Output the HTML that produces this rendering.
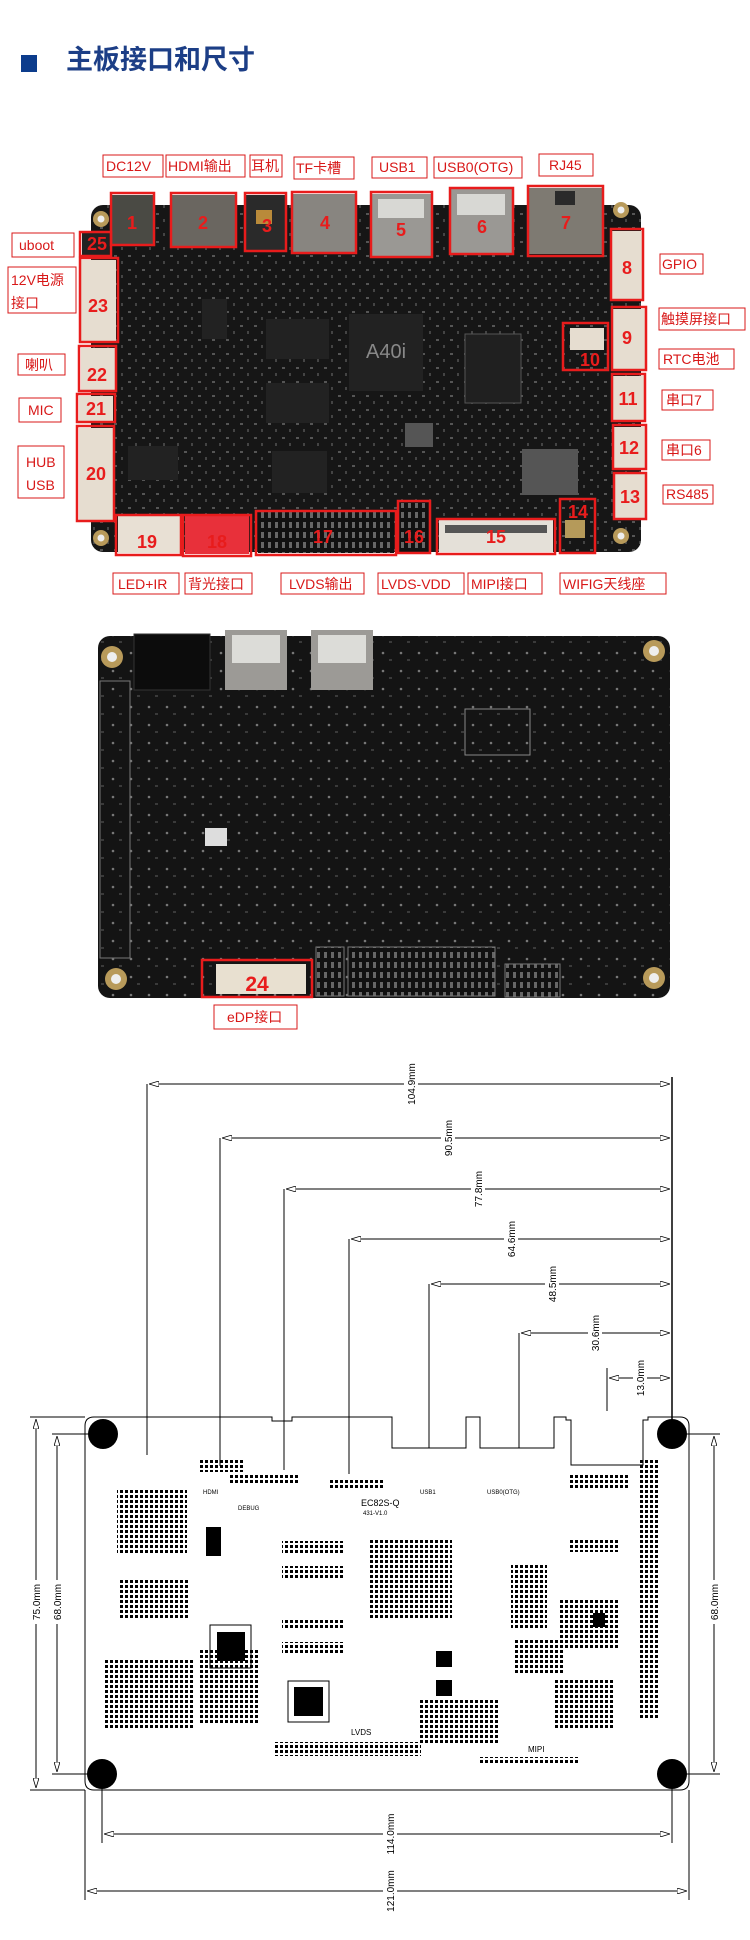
<!DOCTYPE html>
<html><head><meta charset="utf-8">
<style>
html,body{margin:0;padding:0;background:#fff;}
svg{display:block;}
.lb{font-family:"Liberation Sans","Noto Sans CJK SC",sans-serif;font-size:14px;fill:#d81818;}
.nb{font-family:"Liberation Sans",sans-serif;font-size:18px;font-weight:bold;fill:#e81c1c;text-anchor:middle;}
.dm{font-family:"Liberation Sans",sans-serif;font-size:10px;fill:#000;text-anchor:middle;}
.sk{font-family:"Liberation Sans",sans-serif;font-size:6px;fill:#000;}
</style></head><body>
<svg width="750" height="1940" viewBox="0 0 750 1940" xmlns="http://www.w3.org/2000/svg">
<defs>
<pattern id="dots" width="5" height="5" patternUnits="userSpaceOnUse"><rect width="3" height="3" fill="#000"/></pattern>
<pattern id="pcb" width="14" height="14" patternUnits="userSpaceOnUse"><rect width="14" height="14" fill="#161616"/><rect x="2" y="3" width="3" height="2" fill="#555"/><rect x="9" y="9" width="2" height="3" fill="#444"/></pattern>
<pattern id="pcb2" width="18" height="18" patternUnits="userSpaceOnUse"><rect width="18" height="18" fill="#141414"/><circle cx="5" cy="5" r="1.3" fill="#777"/><rect x="11" y="11" width="3" height="2" fill="#3a3a3a"/></pattern>
<pattern id="hdr" width="7" height="10" patternUnits="userSpaceOnUse"><rect width="7" height="10" fill="#111"/><rect x="2" y="2" width="3" height="6" fill="#666"/></pattern>
<marker id="ar" markerWidth="10" markerHeight="6" refX="10" refY="3" orient="auto"><path d="M0,0 L10,3 L0,6 Z" fill="#fff" stroke="#000" stroke-width="0.8"/></marker>
<marker id="al" markerWidth="10" markerHeight="6" refX="0" refY="3" orient="auto"><path d="M10,0 L0,3 L10,6 Z" fill="#fff" stroke="#000" stroke-width="0.8"/></marker>
</defs>

<!-- Title -->
<rect x="21" y="55" width="16" height="17" fill="#0c3c8c"/>
<text x="66" y="69" style="font-family:'Liberation Sans','Noto Sans CJK SC',sans-serif;font-size:27px;font-weight:bold;fill:#1c3e86;">主板接口和尺寸</text>

<!-- Board 1 photo -->
<rect x="91" y="205" width="550" height="347" rx="12" fill="url(#pcb)"/>
<circle cx="101" cy="219" r="8" fill="#b89a5a"/><circle cx="101" cy="219" r="3.5" fill="#eee"/>
<circle cx="621" cy="210" r="8" fill="#b89a5a"/><circle cx="621" cy="210" r="3.5" fill="#eee"/>
<circle cx="101" cy="538" r="8" fill="#b89a5a"/><circle cx="101" cy="538" r="3.5" fill="#eee"/>
<circle cx="621" cy="536" r="8" fill="#b89a5a"/><circle cx="621" cy="536" r="3.5" fill="#eee"/>
<rect x="112" y="195" width="41" height="50" fill="#4a4a44"/>
<rect x="172" y="195" width="63" height="51" fill="#6a6660"/>
<rect x="246" y="195" width="39" height="55" fill="#2a2a2a"/><rect x="256" y="210" width="16" height="14" fill="#b98a3a"/>
<rect x="293" y="194" width="62" height="58" fill="#888580"/>
<rect x="372" y="194" width="59" height="62" fill="#9a9894"/><rect x="378" y="199" width="46" height="19" fill="#d8d8d4"/>
<rect x="451" y="189" width="61" height="65" fill="#9a9894"/><rect x="457" y="194" width="48" height="21" fill="#d8d8d4"/>
<rect x="529" y="188" width="73" height="66" fill="#7e7a72"/><rect x="555" y="191" width="20" height="14" fill="#2a2a2a"/>
<rect x="612" y="231" width="30" height="69" fill="#e6ddd0"/>
<rect x="613" y="309" width="32" height="61" fill="#e6ddd0"/>
<rect x="570" y="328" width="34" height="22" fill="#e6ddd0"/>
<rect x="613" y="376" width="31" height="44" fill="#e6ddd0"/>
<rect x="614" y="427" width="31" height="42" fill="#e6ddd0"/>
<rect x="615" y="474" width="30" height="44" fill="#e6ddd0"/>
<rect x="81" y="260" width="35" height="81" fill="#e6ddd0"/>
<rect x="81" y="348" width="34" height="42" fill="#e6ddd0"/>
<rect x="79" y="396" width="34" height="26" fill="#e6ddd0"/>
<rect x="79" y="428" width="34" height="93" fill="#e6ddd0"/>
<rect x="82" y="233" width="27" height="22" fill="#222"/>
<rect x="118" y="516" width="62" height="37" fill="#e8e0d4"/>
<rect x="185" y="516" width="64" height="38" fill="#e8303a"/>
<rect x="258" y="512" width="136" height="41" fill="url(#hdr)"/>
<rect x="400" y="503" width="28" height="50" fill="url(#hdr)"/>
<rect x="439" y="520" width="114" height="32" fill="#e4e0d8"/><rect x="445" y="525" width="102" height="8" fill="#555"/>
<rect x="565" y="520" width="20" height="18" fill="#b59a5a"/>
<rect x="349" y="314" width="74" height="77" fill="#222"/>
<text x="386" y="358" style="font-family:'Liberation Sans',sans-serif;font-size:20px;fill:#888;text-anchor:middle;">A40i</text>
<rect x="266" y="319" width="63" height="40" fill="#222"/>
<rect x="266" y="383" width="63" height="40" fill="#222"/>
<rect x="465" y="334" width="56" height="69" fill="#202020" stroke="#555"/>
<rect x="522" y="449" width="56" height="46" fill="#555"/>
<rect x="272" y="451" width="55" height="42" fill="#222"/>
<rect x="202" y="299" width="25" height="40" fill="#222"/>
<rect x="128" y="446" width="50" height="34" fill="#222"/>
<rect x="405" y="423" width="28" height="24" fill="#555"/>
<g fill="none" stroke="#e81c1c" stroke-width="2.5">
<rect x="111" y="193" width="43" height="52"/><rect x="171" y="193" width="65" height="54"/>
<rect x="245" y="193" width="41" height="58"/><rect x="292" y="192" width="64" height="61"/>
<rect x="371" y="192" width="61" height="65"/><rect x="450" y="188" width="63" height="66"/>
<rect x="528" y="186" width="75" height="70"/><rect x="611" y="229" width="32" height="71"/>
<rect x="612" y="307" width="34" height="63"/><rect x="563" y="323" width="45" height="47"/>
<rect x="612" y="374" width="33" height="47"/><rect x="613" y="425" width="33" height="44"/>
<rect x="614" y="473" width="32" height="46"/><rect x="560" y="499" width="35" height="54"/>
<rect x="437" y="519" width="118" height="35"/><rect x="398" y="501" width="32" height="52"/>
<rect x="256" y="511" width="140" height="44"/><rect x="183" y="515" width="68" height="41"/>
<rect x="116" y="515" width="65" height="40"/><rect x="77" y="426" width="37" height="95"/>
<rect x="77" y="394" width="38" height="28"/><rect x="79" y="346" width="37" height="45"/>
<rect x="80" y="258" width="38" height="84"/><rect x="80" y="232" width="31" height="24"/>
</g>
<g class="nb">
<text x="132" y="229">1</text><text x="203" y="229">2</text><text x="267" y="232">3</text><text x="325" y="229">4</text>
<text x="401" y="236">5</text><text x="482" y="233">6</text><text x="566" y="229">7</text><text x="627" y="274">8</text>
<text x="627" y="344">9</text><text x="590" y="366">10</text><text x="628" y="405">11</text><text x="629" y="454">12</text>
<text x="630" y="503">13</text><text x="578" y="518">14</text><text x="496" y="543">15</text><text x="414" y="543">16</text>
<text x="323" y="543">17</text><text x="217" y="548">18</text><text x="147" y="548">19</text><text x="96" y="480">20</text>
<text x="96" y="415">21</text><text x="97" y="381">22</text><text x="98" y="312">23</text><text x="97" y="250">25</text>
</g>
<g fill="none" stroke="#d81818" stroke-width="1">
<rect x="103" y="155" width="60" height="22"/><rect x="166" y="155" width="79" height="22"/><rect x="250" y="155" width="32" height="22"/>
<rect x="294" y="157" width="60" height="22"/><rect x="372" y="157" width="55" height="21"/><rect x="434" y="157" width="88" height="21"/>
<rect x="539" y="154" width="54" height="22"/>
<rect x="12" y="233" width="62" height="24"/><rect x="8" y="267" width="68" height="46"/><rect x="18" y="354" width="47" height="21"/>
<rect x="19" y="398" width="42" height="24"/><rect x="18" y="446" width="46" height="52"/>
<rect x="660" y="254" width="43" height="20"/><rect x="659" y="308" width="86" height="22"/><rect x="659" y="349" width="75" height="20"/>
<rect x="662" y="390" width="51" height="20"/><rect x="662" y="440" width="48" height="20"/><rect x="663" y="485" width="50" height="19"/>
<rect x="113" y="573" width="66" height="21"/><rect x="185" y="573" width="67" height="21"/><rect x="281" y="573" width="83" height="21"/>
<rect x="378" y="573" width="86" height="21"/><rect x="468" y="573" width="74" height="21"/><rect x="560" y="573" width="106" height="21"/>
</g>
<g class="lb">
<text x="106" y="171">DC12V</text><text x="168" y="171">HDMI输出</text><text x="251" y="171">耳机</text>
<text x="296" y="173">TF卡槽</text><text x="379" y="172">USB1</text><text x="437" y="172">USB0(OTG)</text><text x="549" y="170">RJ45</text>
<text x="19" y="250">uboot</text><text x="11" y="285">12V电源</text><text x="11" y="308">接口</text><text x="25" y="370">喇叭</text>
<text x="28" y="415">MIC</text><text x="26" y="467">HUB</text><text x="26" y="490">USB</text>
<text x="662" y="269">GPIO</text><text x="661" y="324">触摸屏接口</text><text x="663" y="364">RTC电池</text>
<text x="666" y="405">串口7</text><text x="666" y="455">串口6</text><text x="666" y="499">RS485</text>
<text x="118" y="589">LED+IR</text><text x="188" y="589">背光接口</text><text x="289" y="589">LVDS输出</text>
<text x="381" y="589">LVDS-VDD</text><text x="471" y="589">MIPI接口</text><text x="563" y="589">WIFIG天线座</text>
</g>

<!-- Board 2 photo -->
<rect x="98" y="636" width="572" height="362" rx="12" fill="url(#pcb2)"/>
<rect x="134" y="634" width="76" height="56" fill="#0c0c0c" stroke="#333"/>
<rect x="225" y="630" width="62" height="60" fill="#9c9a96"/><rect x="232" y="635" width="48" height="28" fill="#dcdcd8"/>
<rect x="311" y="630" width="62" height="60" fill="#9c9a96"/><rect x="318" y="635" width="48" height="28" fill="#dcdcd8"/>
<circle cx="112" cy="657" r="11" fill="#b89a5a"/><circle cx="112" cy="657" r="5" fill="#eee"/>
<circle cx="654" cy="651" r="11" fill="#b89a5a"/><circle cx="654" cy="651" r="5" fill="#eee"/>
<circle cx="116" cy="979" r="11" fill="#b89a5a"/><circle cx="116" cy="979" r="5" fill="#eee"/>
<circle cx="654" cy="978" r="11" fill="#b89a5a"/><circle cx="654" cy="978" r="5" fill="#eee"/>
<rect x="100" y="681" width="30" height="277" fill="none" stroke="#777"/>
<rect x="348" y="947" width="147" height="49" fill="url(#hdr)" stroke="#777"/>
<rect x="316" y="947" width="28" height="49" fill="url(#hdr)" stroke="#777"/>
<rect x="505" y="964" width="55" height="33" fill="url(#hdr)" stroke="#777"/>
<rect x="465" y="709" width="65" height="46" fill="none" stroke="#888"/>
<rect x="205" y="828" width="22" height="18" fill="#ddd"/>
<rect x="216" y="964" width="90" height="30" fill="#e8e0d0"/>
<rect x="202" y="960" width="110" height="37" fill="none" stroke="#e81c1c" stroke-width="2.5"/>
<text x="257" y="991" class="nb" style="font-size:21px;">24</text>
<rect x="214" y="1005" width="83" height="24" fill="none" stroke="#d81818"/>
<text x="227" y="1022" class="lb">eDP接口</text>

<!-- Dimension drawing -->
<g stroke="#000" stroke-width="1" fill="none">
<path d="M94,1417 H272 V1421 H292 V1417 H392 V1448 H466 V1417 H480 V1448 H554 V1417 H566 V1420 H571 V1465 H643 V1420 H648 V1417 H680 Q689,1417 689,1426 V1781 Q689,1790 680,1790 H94 Q85,1790 85,1781 V1426 Q85,1417 94,1417 Z"/>
<line x1="672" y1="1077" x2="672" y2="1434" stroke-width="1.5"/>
<line x1="147" y1="1084" x2="147" y2="1455"/><line x1="220" y1="1138" x2="220" y2="1466"/>
<line x1="284" y1="1189" x2="284" y2="1470"/><line x1="349" y1="1239" x2="349" y2="1474"/>
<line x1="429" y1="1284" x2="429" y2="1448"/><line x1="519" y1="1333" x2="519" y2="1448"/>
<line x1="607" y1="1368" x2="607" y2="1411"/>
<line x1="149" y1="1084" x2="670" y2="1084" marker-start="url(#al)" marker-end="url(#ar)"/>
<line x1="222" y1="1138" x2="670" y2="1138" marker-start="url(#al)" marker-end="url(#ar)"/>
<line x1="286" y1="1189" x2="670" y2="1189" marker-start="url(#al)" marker-end="url(#ar)"/>
<line x1="351" y1="1239" x2="670" y2="1239" marker-start="url(#al)" marker-end="url(#ar)"/>
<line x1="431" y1="1284" x2="670" y2="1284" marker-start="url(#al)" marker-end="url(#ar)"/>
<line x1="521" y1="1333" x2="670" y2="1333" marker-start="url(#al)" marker-end="url(#ar)"/>
<line x1="609" y1="1378" x2="670" y2="1378" marker-start="url(#al)" marker-end="url(#ar)"/>
<line x1="30" y1="1417" x2="85" y2="1417"/><line x1="30" y1="1790" x2="85" y2="1790"/>
<line x1="52" y1="1434" x2="103" y2="1434"/><line x1="52" y1="1774" x2="103" y2="1774"/>
<line x1="672" y1="1434" x2="720" y2="1434"/><line x1="672" y1="1774" x2="720" y2="1774"/>
<line x1="36" y1="1419" x2="36" y2="1788" marker-start="url(#al)" marker-end="url(#ar)"/>
<line x1="57" y1="1436" x2="57" y2="1772" marker-start="url(#al)" marker-end="url(#ar)"/>
<line x1="714" y1="1436" x2="714" y2="1772" marker-start="url(#al)" marker-end="url(#ar)"/>
<line x1="102" y1="1774" x2="102" y2="1843"/><line x1="672" y1="1774" x2="672" y2="1843"/>
<line x1="85" y1="1790" x2="85" y2="1900"/><line x1="689" y1="1790" x2="689" y2="1900"/>
<line x1="104" y1="1834" x2="670" y2="1834" marker-start="url(#al)" marker-end="url(#ar)"/>
<line x1="87" y1="1891" x2="687" y2="1891" marker-start="url(#al)" marker-end="url(#ar)"/>
</g>
<g fill="#000"><circle cx="103" cy="1434" r="15"/><circle cx="672" cy="1434" r="15"/><circle cx="102" cy="1774" r="15"/><circle cx="672" cy="1774" r="15"/></g>
<g class="dm">
<rect x="404" y="1060" width="14" height="48" fill="#fff"/><text transform="translate(415,1084) rotate(-90)">104.9mm</text>
<rect x="441" y="1117" width="14" height="42" fill="#fff"/><text transform="translate(452,1138) rotate(-90)">90.5mm</text>
<rect x="471" y="1168" width="14" height="42" fill="#fff"/><text transform="translate(482,1189) rotate(-90)">77.8mm</text>
<rect x="504" y="1218" width="14" height="42" fill="#fff"/><text transform="translate(515,1239) rotate(-90)">64.6mm</text>
<rect x="545" y="1263" width="14" height="42" fill="#fff"/><text transform="translate(556,1284) rotate(-90)">48.5mm</text>
<rect x="588" y="1312" width="14" height="42" fill="#fff"/><text transform="translate(599,1333) rotate(-90)">30.6mm</text>
<rect x="633" y="1357" width="14" height="42" fill="#fff"/><text transform="translate(644,1378) rotate(-90)">13.0mm</text>
<rect x="29" y="1580" width="14" height="44" fill="#fff"/><text transform="translate(40,1602) rotate(-90)">75.0mm</text>
<rect x="50" y="1580" width="14" height="44" fill="#fff"/><text transform="translate(61,1602) rotate(-90)">68.0mm</text>
<rect x="707" y="1580" width="14" height="44" fill="#fff"/><text transform="translate(718,1602) rotate(-90)">68.0mm</text>
<rect x="383" y="1812" width="14" height="44" fill="#fff"/><text transform="translate(394,1834) rotate(-90)">114.0mm</text>
<rect x="383" y="1869" width="14" height="44" fill="#fff"/><text transform="translate(394,1891) rotate(-90)">121.0mm</text>
</g>
<!-- silkscreen approximations -->
<g fill="#000">
<rect x="370" y="1539" width="82" height="81" fill="url(#dots)"/>
<rect x="282" y="1541" width="62" height="12" fill="url(#dots)"/>
<rect x="282" y="1566" width="62" height="12" fill="url(#dots)"/>
<rect x="282" y="1618" width="62" height="12" fill="url(#dots)"/>
<rect x="282" y="1642" width="62" height="12" fill="url(#dots)"/>
<rect x="217" y="1632" width="28" height="29"/>
<rect x="210" y="1625" width="41" height="43" fill="none" stroke="#000"/>
<rect x="294" y="1687" width="29" height="29"/>
<rect x="288" y="1681" width="41" height="41" fill="none" stroke="#000"/>
<rect x="206" y="1527" width="15" height="29"/>
<rect x="436" y="1651" width="16" height="16"/><rect x="436" y="1680" width="16" height="16"/>
<rect x="593" y="1613" width="12" height="14"/>
<rect x="511" y="1563" width="36" height="67" fill="url(#dots)"/>
<rect x="198" y="1460" width="47" height="12" fill="url(#dots)"/>
<rect x="275" y="1742" width="146" height="14" fill="url(#dots)"/>
<rect x="479" y="1757" width="99" height="6" fill="url(#dots)"/>
<rect x="117" y="1490" width="70" height="65" fill="url(#dots)"/>
<rect x="120" y="1580" width="70" height="40" fill="url(#dots)"/>
<rect x="105" y="1660" width="90" height="70" fill="url(#dots)"/>
<rect x="570" y="1475" width="60" height="15" fill="url(#dots)"/>
<rect x="570" y="1540" width="50" height="12" fill="url(#dots)"/>
<rect x="560" y="1600" width="60" height="50" fill="url(#dots)"/>
<rect x="555" y="1680" width="60" height="50" fill="url(#dots)"/>
<rect x="640" y="1460" width="20" height="260" fill="url(#dots)"/>
<rect x="515" y="1640" width="50" height="35" fill="url(#dots)"/>
<rect x="200" y="1650" width="60" height="75" fill="url(#dots)"/>
<rect x="330" y="1478" width="55" height="10" fill="url(#dots)"/>
<rect x="420" y="1700" width="80" height="45" fill="url(#dots)"/>
<rect x="230" y="1475" width="70" height="10" fill="url(#dots)"/>
</g>
<text x="361" y="1506" style="font-family:'Liberation Sans',sans-serif;font-size:9px;">EC82S-Q</text>
<text x="363" y="1515" class="sk">431-V1.0</text>
<text x="420" y="1494" class="sk">USB1</text><text x="487" y="1494" class="sk">USB0(OTG)</text>
<text x="203" y="1494" class="sk">HDMI</text><text x="238" y="1510" class="sk">DEBUG</text>
<text x="351" y="1735" class="sk" style="font-size:8px">LVDS</text><text x="528" y="1752" class="sk" style="font-size:8px">MIPI</text>
</svg>
</body></html>
